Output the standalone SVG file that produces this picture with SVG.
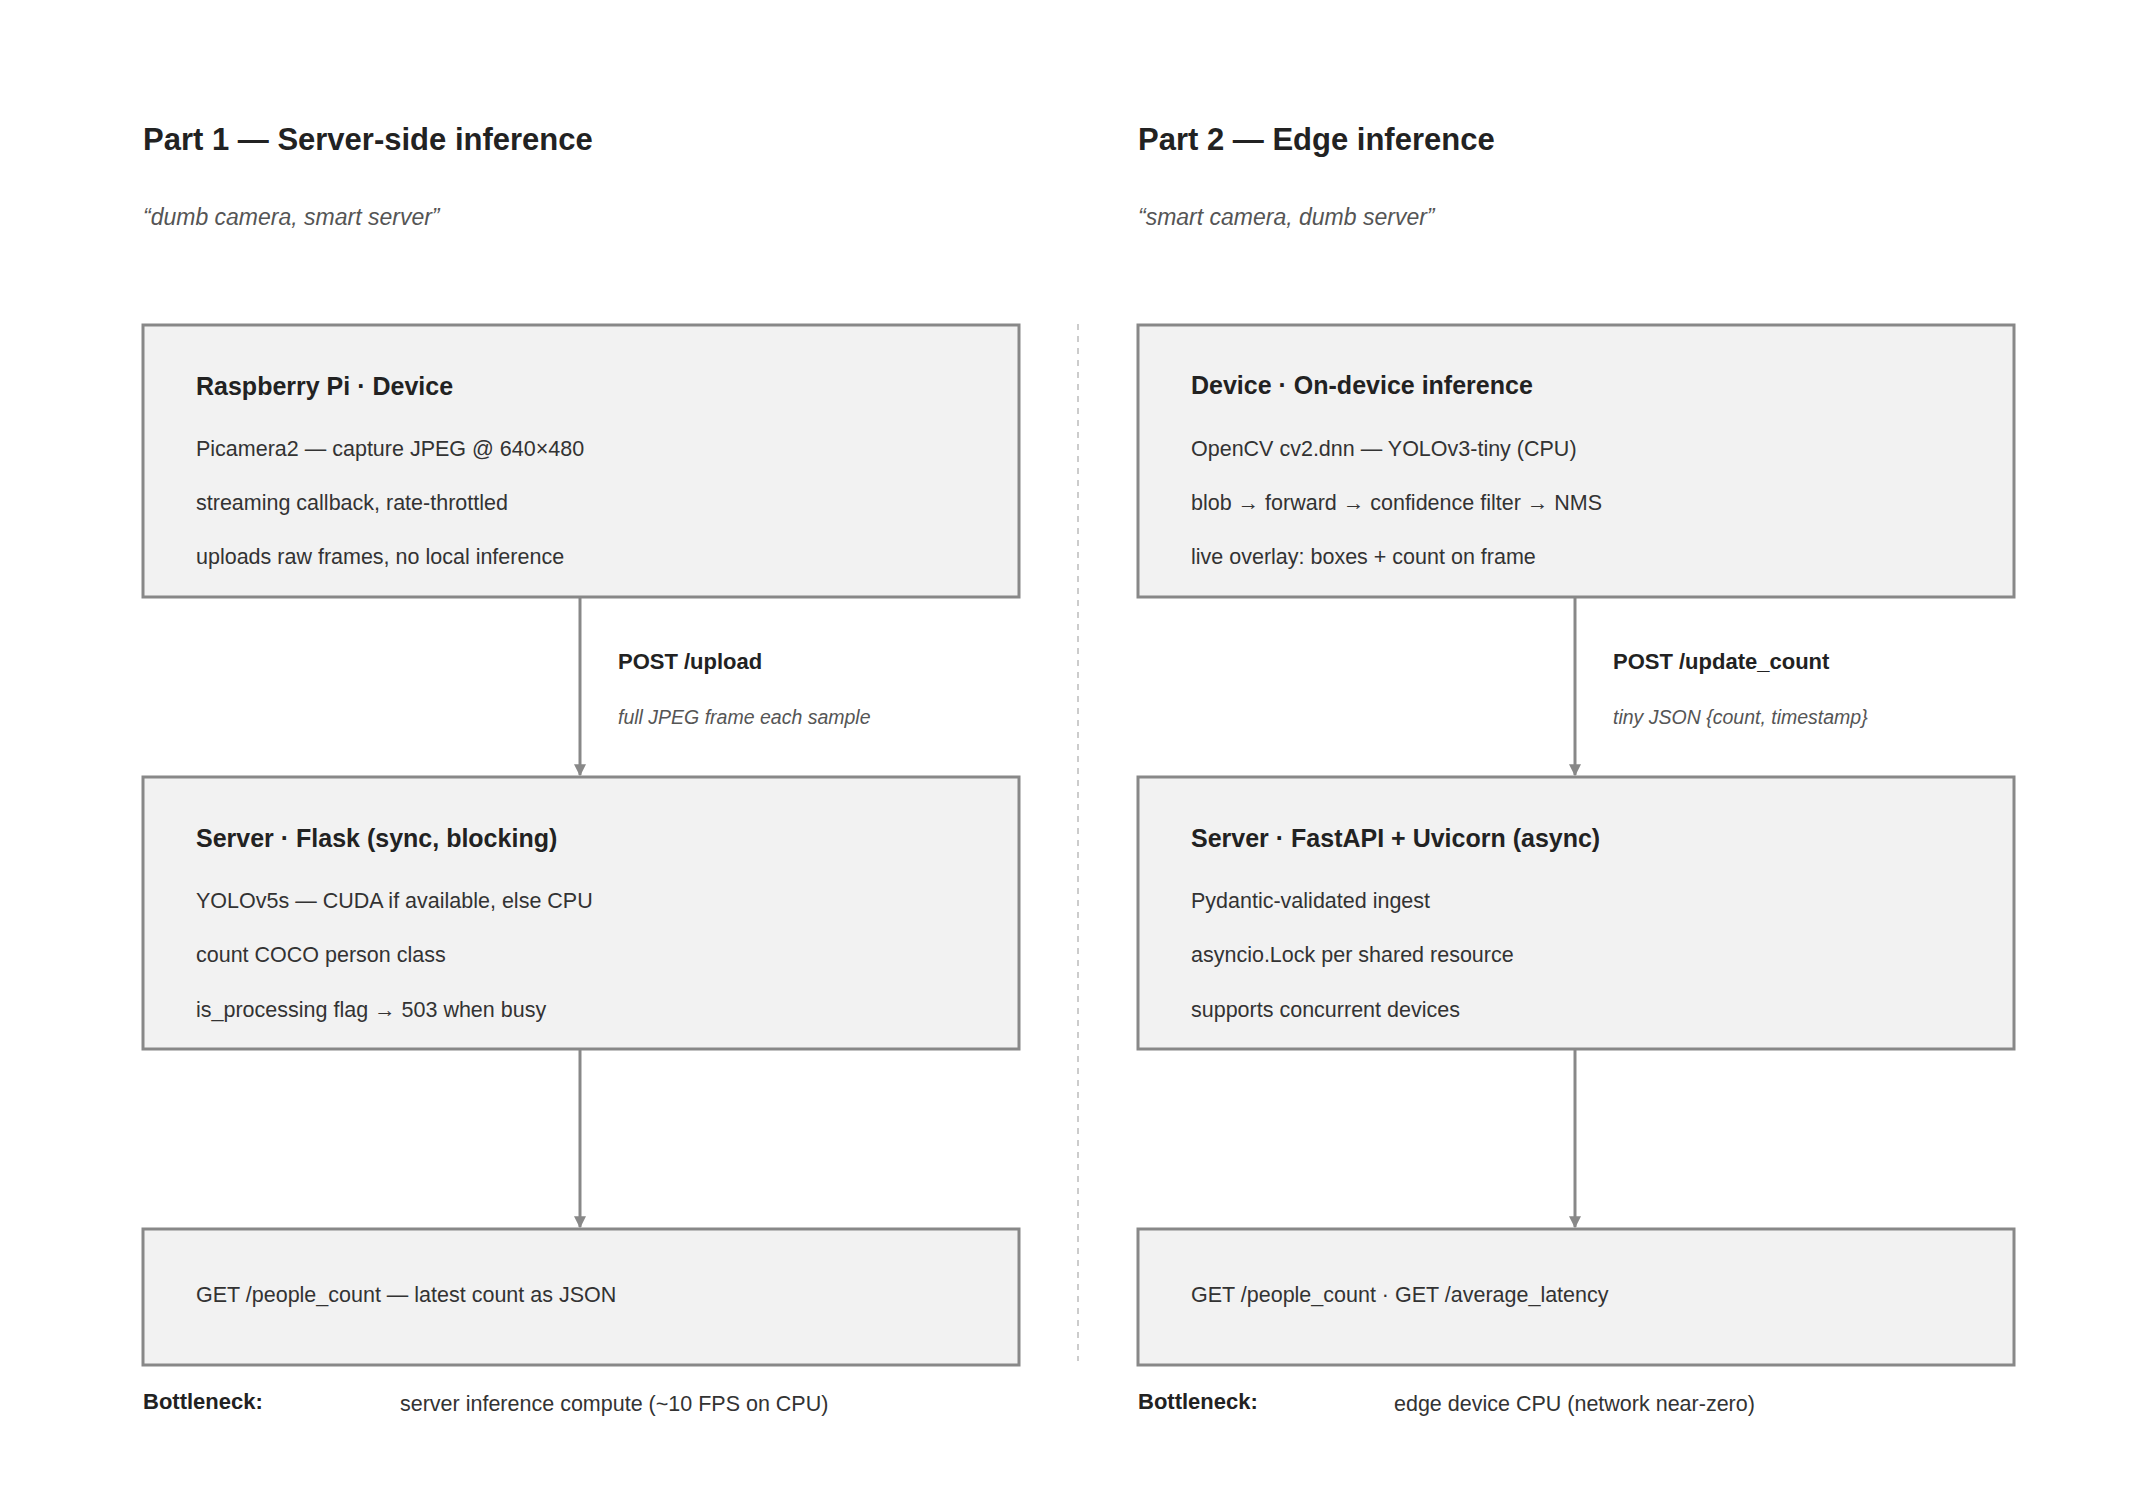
<svg xmlns="http://www.w3.org/2000/svg" width="2145" height="1485" viewBox="0 0 2145 1485">
<style>
text{font-family:"Liberation Sans",Arial,sans-serif;fill:#222}
.t{font-size:31px;font-weight:bold}
.s{font-size:23px;font-style:italic;fill:#555}
.box{fill:#f2f2f2;stroke:#888;stroke-width:3}
.h{font-size:25px;font-weight:bold}
.l{font-size:21.5px;fill:#333}
.el{font-size:22px;font-weight:bold}
.ei{font-size:19.5px;font-style:italic;fill:#555}
.c{stroke:#888;stroke-width:3;fill:none;marker-end:url(#a)}
.bn{font-size:22px;font-weight:bold}
</style>
<defs><marker id="a" markerWidth="12" markerHeight="12" refX="9" refY="5" orient="auto" markerUnits="userSpaceOnUse" viewBox="0 0 10 10"><path d="M0,0L10,5L0,10z" fill="#888" transform="translate(0,0)"/></marker></defs>
<rect width="2145" height="1485" fill="#fff"/>
<text class="t" x="143" y="150">Part 1 — Server-side inference</text>
<text class="s" x="143" y="225">“dumb camera, smart server”</text>
<text class="t" x="1138" y="150">Part 2 — Edge inference</text>
<text class="s" x="1138" y="225">“smart camera, dumb server”</text>
<line x1="1078" y1="324" x2="1078" y2="1361" stroke="#ccc" stroke-width="2" stroke-dasharray="6,6"/>
<g id="connectors">
<path class="c" d="M580,597V775"/>
<path class="c" d="M580,1049V1227"/>
<path class="c" d="M1575,597V775"/>
<path class="c" d="M1575,1049V1227"/>
<text class="el" x="618" y="669">POST /upload</text>
<text class="ei" x="618" y="724">full JPEG frame each sample</text>
<text class="el" x="1613" y="669">POST /update_count</text>
<text class="ei" x="1613" y="724">tiny JSON {count, timestamp}</text>
</g>
<g id="pi"><rect class="box" x="143" y="325" width="876" height="272"/>
<text class="h" x="196" y="395">Raspberry Pi · Device</text>
<text class="l" x="196" y="456">Picamera2 — capture JPEG @ 640×480</text>
<text class="l" x="196" y="510">streaming callback, rate-throttled</text>
<text class="l" x="196" y="564">uploads raw frames, no local inference</text></g>
<g id="flask"><rect class="box" x="143" y="777" width="876" height="272"/>
<text class="h" x="196" y="847">Server · Flask (sync, blocking)</text>
<text class="l" x="196" y="908">YOLOv5s — CUDA if available, else CPU</text>
<text class="l" x="196" y="962">count COCO person class</text>
<text class="l" x="196" y="1017">is_processing flag → 503 when busy</text></g>
<g id="get1"><rect class="box" x="143" y="1229" width="876" height="136"/>
<text class="l" x="196" y="1302">GET /people_count — latest count as JSON</text></g>
<text class="bn" x="143" y="1409">Bottleneck:</text>
<text class="l" x="400" y="1411">server inference compute (~10 FPS on CPU)</text>
<g id="dev"><rect class="box" x="1138" y="325" width="876" height="272"/>
<text class="h" x="1191" y="394">Device · On-device inference</text>
<text class="l" x="1191" y="456">OpenCV cv2.dnn — YOLOv3-tiny (CPU)</text>
<text class="l" x="1191" y="510">blob → forward → confidence filter → NMS</text>
<text class="l" x="1191" y="564">live overlay: boxes + count on frame</text></g>
<g id="fastapi"><rect class="box" x="1138" y="777" width="876" height="272"/>
<text class="h" x="1191" y="847">Server · FastAPI + Uvicorn (async)</text>
<text class="l" x="1191" y="908">Pydantic-validated ingest</text>
<text class="l" x="1191" y="962">asyncio.Lock per shared resource</text>
<text class="l" x="1191" y="1017">supports concurrent devices</text></g>
<g id="get2"><rect class="box" x="1138" y="1229" width="876" height="136"/>
<text class="l" x="1191" y="1302">GET /people_count · GET /average_latency</text></g>
<text class="bn" x="1138" y="1409">Bottleneck:</text>
<text class="l" x="1394" y="1411">edge device CPU (network near-zero)</text>
</svg>
